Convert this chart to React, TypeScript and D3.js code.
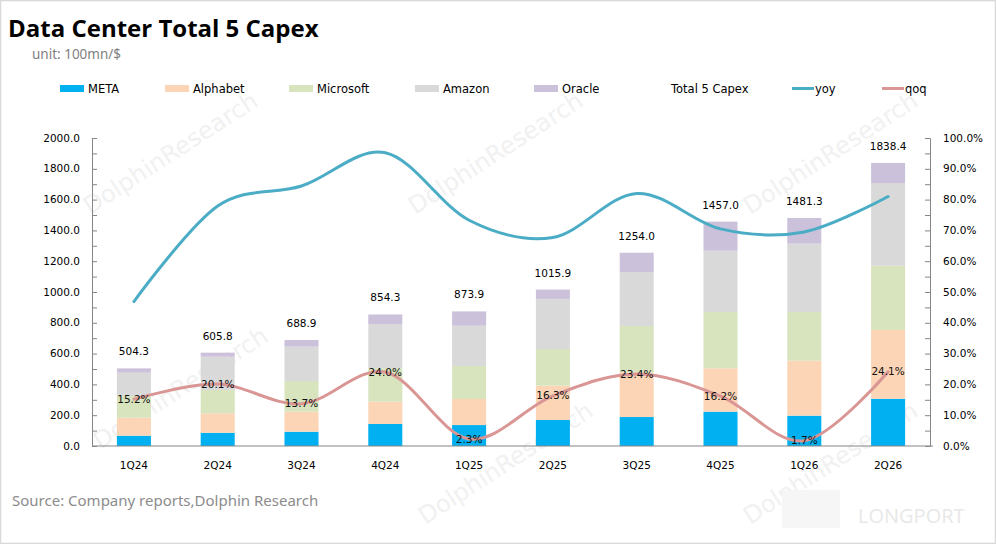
import { useEffect, useRef } from 'react'
import * as d3 from 'd3'

const W = 996, H = 544
const M = { top: 138, right: 66, bottom: 98, left: 92 }

const quarters = ['1Q24', '2Q24', '3Q24', '4Q24', '1Q25', '2Q25', '3Q25', '4Q25', '1Q26', '2Q26']
const meta = [67, 86, 93, 143, 136, 169, 188, 223, 197, 307]
const alphabet = [117, 126, 130, 145, 169, 223, 290, 282, 357, 446]
const microsoft = [141, 152, 199, 217, 214, 238, 301, 365, 316, 418]
const amazon = [151, 216, 223, 287, 262, 325, 351, 398, 444, 537]
const oracle = [28, 26, 43, 62, 93, 61, 125, 189, 167, 130]
const totals = [504.3, 605.8, 688.9, 854.3, 873.9, 1015.9, 1254.0, 1457.0, 1481.3, 1838.4]
const yoy = [0.469, 0.779, 0.844, 0.952, 0.733, 0.677, 0.820, 0.705, 0.695, 0.810]
const qoq = [0.152, 0.201, 0.137, 0.240, 0.023, 0.163, 0.234, 0.162, 0.017, 0.241]
const leftTicks = [0, 200, 400, 600, 800, 1000, 1200, 1400, 1600, 1800, 2000]
const rightTicks = [0, 0.1, 0.2, 0.3, 0.4, 0.5, 0.6, 0.7, 0.8, 0.9, 1.0]

const series = [
  { name: 'META', values: meta, color: '#00b0f0' },
  { name: 'Alphabet', values: alphabet, color: '#fbd5b5' },
  { name: 'Microsoft', values: microsoft, color: '#d7e4bd' },
  { name: 'Amazon', values: amazon, color: '#d9d9d9' },
  { name: 'Oracle', values: oracle, color: '#ccc1da' },
]

const FONT = "'DejaVu Sans', Verdana, sans-serif"
const YOY = '#4bacc6', QOQ = '#d99694'

export default function App() {
  const svgRef = useRef<SVGSVGElement>(null)

  useEffect(() => {
    const svg = d3.select(svgRef.current!)
    svg.selectAll('*').remove()

    const x0 = M.left, x1 = W - M.right, yBase = H - M.bottom

    svg.append('rect').attr('x', 0.5).attr('y', 0.5).attr('width', W - 1).attr('height', H - 1)
      .attr('fill', '#fff').attr('stroke', '#d9d9d9').attr('stroke-width', 1.5)

    // watermarks
    const marks = [[175, 160], [500, 160], [835, 160], [185, 395], [510, 470], [835, 470]]
    marks.forEach(([mx, my]) => {
      svg.append('text').attr('transform', `translate(${mx},${my}) rotate(-33)`)
        .attr('text-anchor', 'middle').attr('font-family', FONT).attr('font-size', 24)
        .attr('fill', '#f1f1f1').text('DolphinResearch')
    })
    svg.append('rect').attr('x', 782).attr('y', 490).attr('width', 58).attr('height', 38).attr('fill', '#f6f6f6')
    svg.append('text').attr('x', 858).attr('y', 523).attr('font-family', "'Open Sans', sans-serif")
      .attr('font-size', 20).attr('fill', '#e8e8e8').text('LONGPORT')

    const x = d3.scaleBand<string>().domain(quarters).range([x0, x1]).paddingInner(0.594).paddingOuter(0.297)
    const yL = d3.scaleLinear().domain([0, 2000]).range([yBase, M.top])
    const yR = d3.scaleLinear().domain([0, 1]).range([yBase, M.top])

    // stacked bars
    const rows = quarters.map((q, i) => {
      const r: Record<string, number | string> = { q }
      series.forEach(s => { r[s.name] = s.values[i] })
      return r
    })
    const stack = d3.stack<Record<string, number | string>>().keys(series.map(s => s.name))(rows)
    stack.forEach((layer, li) => {
      svg.append('g').selectAll('rect').data(layer).join('rect')
        .attr('x', d => x(d.data.q as string)!)
        .attr('width', x.bandwidth())
        .attr('y', d => yL(d[1]))
        .attr('height', d => yL(d[0]) - yL(d[1]))
        .attr('fill', series[li].color)
    })

    // axes
    const axisColor = '#868686'
    const gl = svg.append('g').attr('transform', `translate(${x0},0)`)
      .call(d3.axisRight(yL).tickValues(d3.range(0, 2001, 100)).tickSize(5).tickFormat(() => ''))
    gl.selectAll('line, path').attr('stroke', axisColor)
    leftTicks.forEach(t => {
      svg.append('text').attr('x', x0 - 12).attr('y', yL(t)).attr('dy', '0.35em')
        .attr('text-anchor', 'end').attr('font-family', FONT).attr('font-size', 10.5)
        .attr('fill', '#000').text(d3.format('.1f')(t))
    })
    const gr = svg.append('g').attr('transform', `translate(${x1},0)`)
      .call(d3.axisLeft(yR).tickValues(d3.range(0, 1.001, 0.05)).tickSize(5).tickFormat(() => ''))
    gr.selectAll('line, path').attr('stroke', axisColor)
    rightTicks.forEach(t => {
      svg.append('text').attr('x', x1 + 13).attr('y', yR(t)).attr('dy', '0.35em')
        .attr('font-family', FONT).attr('font-size', 10.5).attr('fill', '#000')
        .text(d3.format('.1%')(t))
    })
    svg.append('line').attr('x1', x0).attr('x2', x1 + 3).attr('y1', yBase).attr('y2', yBase)
      .attr('stroke', axisColor).attr('stroke-width', 1.2)
    quarters.forEach(q => {
      svg.append('text').attr('x', x(q)! + x.bandwidth() / 2).attr('y', yBase + 23)
        .attr('text-anchor', 'middle').attr('font-family', FONT).attr('font-size', 10.5)
        .attr('fill', '#000').text(q)
    })

    const cx = (i: number) => x(quarters[i])! + x.bandwidth() / 2
    const line = d3.line<number>().x((_, i) => cx(i)).y(d => yR(d)).curve(d3.curveCardinal.tension(0))

    svg.append('path').datum(qoq).attr('fill', 'none').attr('stroke', QOQ)
      .attr('stroke-width', 3).attr('stroke-linecap', 'round').attr('d', line)
    svg.append('path').datum(yoy).attr('fill', 'none').attr('stroke', YOY)
      .attr('stroke-width', 3).attr('stroke-linecap', 'round').attr('d', line)

    // labels
    totals.forEach((t, i) => {
      svg.append('text').attr('x', cx(i)).attr('y', yL(t) - 13).attr('text-anchor', 'middle')
        .attr('font-family', FONT).attr('font-size', 10.5).attr('fill', '#000').text(t.toFixed(1))
    })
    qoq.forEach((v, i) => {
      svg.append('text').attr('x', cx(i)).attr('y', yR(v)).attr('dy', '0.35em').attr('text-anchor', 'middle')
        .attr('font-family', FONT).attr('font-size', 10.5).attr('fill', '#111').text(d3.format('.1%')(v))
    })

    // legend
    const lg = svg.append('g').attr('font-family', FONT).attr('font-size', 11.5).attr('fill', '#000')
    const swX = [60, 165, 289, 415, 534]
    series.forEach((s, i) => {
      lg.append('rect').attr('x', swX[i]).attr('y', 85).attr('width', 24).attr('height', 7).attr('fill', s.color)
      lg.append('text').attr('x', swX[i] + 28).attr('y', 93).text(s.name)
    })
    lg.append('text').attr('x', 671).attr('y', 93).text('Total 5 Capex')
    ;[{ n: 'yoy', c: YOY, x: 792 }, { n: 'qoq', c: QOQ, x: 882 }].forEach(l => {
      lg.append('line').attr('x1', l.x).attr('x2', l.x + 22).attr('y1', 88.5).attr('y2', 88.5)
        .attr('stroke', l.c).attr('stroke-width', 3)
      lg.append('text').attr('x', l.x + 23).attr('y', 93).text(l.n)
    })

    // titles
    svg.append('text').attr('x', 8).attr('y', 37).attr('font-family', "'Open Sans', sans-serif")
      .attr('font-weight', 700).attr('font-size', 24).attr('fill', '#000').text('Data Center Total 5 Capex')
    svg.append('text').attr('x', 32).attr('y', 59).attr('font-family', "'Noto Sans', sans-serif")
      .attr('font-size', 13.5).attr('fill', '#7f7f7f').text('unit: 100mn/$')
    svg.append('text').attr('x', 12).attr('y', 506).attr('font-family', "'Noto Sans', sans-serif")
      .attr('font-size', 15).attr('fill', '#8c8c8c').text('Source: Company reports,Dolphin Research')
  }, [])

  return <svg ref={svgRef} width={W} height={H} viewBox={`0 0 ${W} ${H}`}
    style={{ position: 'absolute', left: 0, top: 0, display: 'block' }} />
}
